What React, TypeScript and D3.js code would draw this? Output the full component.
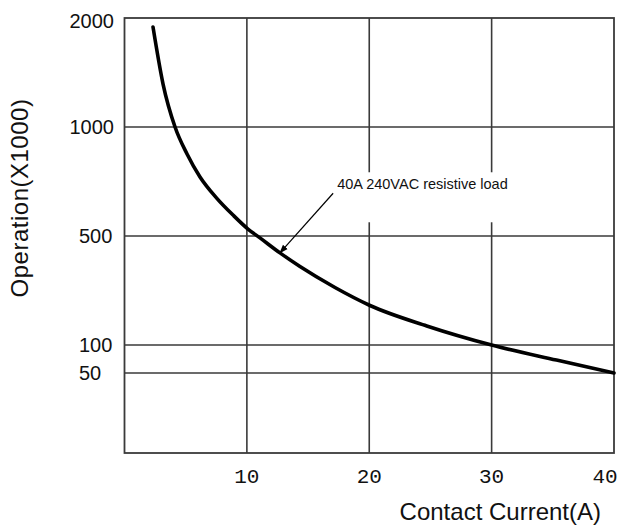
import React from "react";
import * as d3 from "d3";

const W = 617;
const H = 528;

// Data (Contact Current in A, Operations x1000)
const currentA = [2.33, 3.15, 4.13, 5.11, 6.17, 7.53, 8.87, 10.09, 11.07, 12.7, 14.34, 17.2, 20.06, 24.7, 30, 35.3, 40];
const operations = [1917, 1394, 1000, 876, 771, 674, 596, 532, 493, 438, 388, 311, 245, 170, 100, 73, 50];

const xTicks = [10, 20, 30, 40];
const xGrid = [10, 20, 30];
const yTicks = [2000, 1000, 500, 100, 50];
const yGrid = [1000, 500, 100, 50];

// piecewise (non-uniform) y axis breakpoints
const yBreaks = [0, 50, 100, 500, 1000, 2000];

const annotationText = "40A 240VAC resistive load";
const arrowFrom = { x: 17.05, y: 696 };
const arrowTo = { x: 12.7, y: 438 };

export default function App() {
  const left = 124.5;
  const right = 614;
  const top = 18;
  const bottom = 453;

  const x = d3.scaleLinear().domain([0, 40]).range([left, right]);
  const y = d3
    .scaleLinear()
    .domain(yBreaks)
    .range([bottom, 373, 345, 236, 127, top]);

  const pts = currentA.map((c, i) => [c, operations[i]] as [number, number]);
  const line = d3
    .line<[number, number]>()
    .x((d) => x(d[0]))
    .y((d) => y(d[1]))
    .curve(d3.curveMonotoneX);

  const gridColor = "#3a3a3a";
  const ax = x(arrowFrom.x);
  const ay = y(arrowFrom.y);
  const bx = x(arrowTo.x);
  const by = y(arrowTo.y);

  return (
    <svg
      width={W}
      height={H}
      style={{ position: "absolute", left: 0, top: 0, background: "#fff" }}
    >
      <defs>
        <marker
          id="arrowhead"
          viewBox="0 0 10 10"
          refX="9"
          refY="5"
          markerWidth="9"
          markerHeight="9"
          orient="auto"
          markerUnits="userSpaceOnUse"
        >
          <path d="M0,1.5 L10,5 L0,8.5 Z" fill="#000" />
        </marker>
      </defs>
      <rect x={0} y={0} width={W} height={H} fill="#fff" />
      {xGrid.map((v) => (
        <line
          key={"xg" + v}
          x1={x(v)}
          x2={x(v)}
          y1={top}
          y2={bottom}
          stroke={gridColor}
          strokeWidth={1.6}
        />
      ))}
      {yGrid.map((v) => (
        <line
          key={"yg" + v}
          x1={left}
          x2={right}
          y1={y(v)}
          y2={y(v)}
          stroke={gridColor}
          strokeWidth={1.6}
        />
      ))}
      {/* white backing behind annotation */}
      <rect x={ax - 3} y={ay - 21} width={192} height={50} fill="#fff" />
      <rect
        x={left}
        y={top}
        width={right - left}
        height={bottom - top}
        fill="none"
        stroke={gridColor}
        strokeWidth={1.8}
      />
      <path
        d={line(pts) || ""}
        fill="none"
        stroke="#000"
        strokeWidth={3.6}
        strokeLinecap="round"
      />
      <line
        x1={ax}
        y1={ay}
        x2={bx}
        y2={by}
        stroke="#000"
        strokeWidth={1.2}
        markerEnd="url(#arrowhead)"
      />
      <text
        x={ax + 4}
        y={ay - 4}
        fontFamily="Liberation Sans, Arial, sans-serif"
        fontSize={14.5}
        fill="#111"
      >
        {annotationText}
      </text>
      {yTicks.map((v) => {
        const label = String(v);
        const long = label.length > 3;
        return (
          <text
            key={"yt" + v}
            x={long ? 114 : 79}
            y={y(v) + (v === 2000 ? 10 : 7)}
            textAnchor={long ? "end" : "start"}
            fontFamily="Liberation Sans, Arial, sans-serif"
            fontSize={20}
            fill="#111"
          >
            {label}
          </text>
        );
      })}
      {xTicks.map((v) => (
        <text
          key={"xt" + v}
          x={Math.min(x(v), W - 12)}
          y={483}
          textAnchor="middle"
          fontFamily="Liberation Mono, Courier New, monospace"
          fontSize={21}
          fill="#111"
        >
          {v}
        </text>
      ))}
      <text
        x={601}
        y={520}
        textAnchor="end"
        fontFamily="Liberation Sans, Arial, sans-serif"
        fontSize={24}
        fill="#111"
      >
        Contact Current(A)
      </text>
      <text
        transform={`translate(28, 198) rotate(-90)`}
        textAnchor="middle"
        fontFamily="Liberation Sans, Arial, sans-serif"
        fontSize={24}
        letterSpacing={0.5}
        fill="#111"
      >
        Operation(X1000)
      </text>
    </svg>
  );
}
